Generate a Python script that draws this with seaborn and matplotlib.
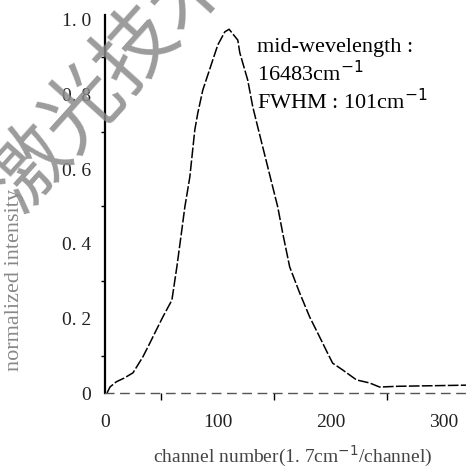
import matplotlib
matplotlib.use("Agg")
import matplotlib.pyplot as plt
import seaborn as sns
import pandas as pd
from matplotlib.ticker import MultipleLocator, FixedLocator, FixedFormatter

channel = [1.8, 4.4, 10, 17, 24.8, 33.6, 39.8, 44.2, 51.3, 59.3, 63.7, 68.1, 70.8, 75.2,
           79.6, 82.3, 86.7, 94.7, 100, 106.2, 110, 117.7, 119.5, 126.5, 131, 135.4,
           147.8, 153.1, 157.5, 163.7, 172.6, 181.4, 190.3, 197.3, 201.8, 210.6, 223,
           234.5, 243.4, 260, 280, 300, 320]
intensity = [0.0, 0.016, 0.03, 0.04, 0.054, 0.097, 0.134, 0.161, 0.204, 0.249, 0.338,
             0.437, 0.499, 0.579, 0.705, 0.751, 0.812, 0.885, 0.933, 0.968, 0.975, 0.946,
             0.912, 0.839, 0.767, 0.713, 0.563, 0.499, 0.429, 0.338, 0.268, 0.204, 0.150,
             0.107, 0.080, 0.062, 0.035, 0.027, 0.016, 0.018, 0.019, 0.02, 0.021]

x_ticks = [0, 100, 200, 300]
x_labels = ["0", "100", "200", "300"]
y_ticks = [0, 0.2, 0.4, 0.6, 0.8, 1.0]
y_labels = ["0", "0. 2", "0. 4", "0. 6", "0. 8", "1. 0"]

df = pd.DataFrame({"channel": channel, "intensity": intensity})

sns.set_theme(style="white")
plt.rcParams["font.family"] = ["Liberation Serif", "DejaVu Serif"]

fig = plt.figure(figsize=(4.66, 4.71), dpi=100)
ax = fig.add_axes([0.2253, 0.1656, 0.7747, 0.8024])

sns.lineplot(data=df, x="channel", y="intensity", ax=ax, color="black",
             linewidth=1.1, linestyle=(0, (7, 1.5)))

ax.set_xlim(0, 320)
ax.set_ylim(0, 1.013)

ax.xaxis.set_major_locator(FixedLocator(x_ticks))
ax.xaxis.set_major_formatter(FixedFormatter(x_labels))
ax.xaxis.set_minor_locator(MultipleLocator(50))
ax.yaxis.set_major_locator(FixedLocator(y_ticks))
ax.yaxis.set_major_formatter(FixedFormatter(y_labels))
ax.yaxis.set_minor_locator(MultipleLocator(0.1))

ax.tick_params(axis="both", which="both", direction="out", color="black",
               labelsize=14, labelcolor="#222222")
ax.tick_params(axis="x", which="major", length=7, width=1, pad=8)
ax.tick_params(axis="x", which="minor", length=5, width=1, bottom=True)
ax.tick_params(axis="y", which="major", length=6, width=1, pad=4)
ax.tick_params(axis="y", which="minor", length=3, width=1, left=True)

for s in ["top", "right"]:
    ax.spines[s].set_visible(False)
ax.spines["left"].set_color("black")
ax.spines["left"].set_linewidth(1.6)
ax.spines["bottom"].set_color("#555555")
ax.spines["bottom"].set_linewidth(1.0)
ax.spines["bottom"].set_linestyle((0, (6, 5)))

ax.set_xlabel("channel number(1. 7cm$^{-1}$/channel)", fontsize=14, color="#444444")
ax.set_ylabel("normalized intensity", fontsize=16, color="#888888")
ax.xaxis.set_label_coords(0.52, -0.135)
ax.yaxis.set_label_coords(-0.225, 0.3)

ax.text(135, 0.915, "mid-wevelength :", fontsize=16, color="black")
ax.text(135, 0.835, "16483cm$^{-1}$", fontsize=16, color="black")
ax.text(135, 0.76, "FWHM : 101cm$^{-1}$", fontsize=16, color="black")
ax.grid(False)

fig.text(0.236, 0.834, "激光技术", fontsize=58, color="#8a8a8a", alpha=0.85,
         rotation=48, ha="center", va="center",
         family=["Noto Sans CJK SC", "DejaVu Sans"], zorder=10)

fig.savefig("out.png", dpi=100)
